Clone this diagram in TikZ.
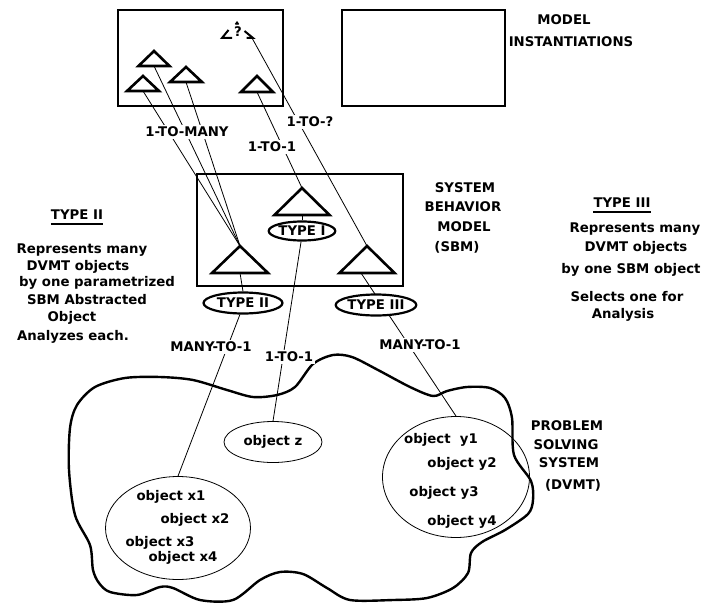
\documentclass[tikz,border=0pt]{standalone}
\usepackage{fontspec}
\setmainfont{DejaVu Sans}
\usetikzlibrary{shapes.geometric}
\newcommand\mytri[5]{%
  \draw[tri] (#2,#3) -- ++(-#4,#5) -- ++(2*#4,0) -- cycle;
  \coordinate (#1a) at (#2,#3);
  \coordinate (#1b) at (#2,#3+#5);}
\begin{document}
\begin{tikzpicture}[x=1pt,y=-1pt,
  every node/.style={font=\bfseries\fontsize{13.3}{15}\selectfont},
  box/.style={draw, line width=2.2pt, inner sep=0pt},
  tri/.style={draw, line width=2.6pt, line join=miter},
  link/.style={draw, line width=0.8pt},
  lbl/.style={fill=white, inner sep=1.5pt},
  typeell/.style={ellipse, draw, line width=2.2pt, fill=white, inner sep=0pt},
  objell/.style={ellipse, draw, line width=0.8pt, inner sep=0pt},
  txt/.style={inner sep=0pt, align=center},
  ulin/.style={line width=1.3pt},
  blob/.style={line width=2.4pt, line join=round}]
\useasboundingbox (0,0) rectangle (706,602);

% boxes
\node[box, minimum width=165pt, minimum height=96pt] (inst) at (200.5,58) {};
\node[box, minimum width=163pt, minimum height=96pt] (inst2) at (423.5,58) {};
\node[box, minimum width=206pt, minimum height=112pt] (sbm) at (300,230) {};

% top triangles
\mytri{ta}{154}{51}{15.5}{15}
\mytri{tb}{186}{67}{16}{15}
\mytri{tc}{143}{76}{16}{15}
\mytri{td}{257}{76}{16}{16}
% broken triangle with question mark
\draw[tri, line width=2pt] (228.5,30) -- (222,38) -- (232,38);
\draw[tri, line width=2pt] (244.5,31) -- (253,38) -- (246.5,38);
\draw[tri, line width=1.8pt] (235.5,24.5) -- (237,22.5) -- (238.5,24.5);
\coordinate (tqr) at (252,38);
\node[inner sep=0pt] (q) at (238,32) {?};

% SBM triangles
\mytri{sI}{302}{188}{27.5}{27}
\mytri{sII}{240}{246}{28}{27}
\mytri{sIII}{367}{246}{27.5}{27}
\coordinate (sIIIc) at (361,273);

% blob
\draw[blob] plot[smooth cycle, tension=0.5] coordinates {
(77,405) (95,387) (125,378) (160,377) (193,380) (227,390) (253,397) (277,395)
(295,387) (313,364) (333,355) (352,357) (378,370) (410,387) (433,396) (447,391)
(467,387) (490,388) (505,398) (512,418) (514,455) (531,481) (533,500) (528,514)
(505,530) (482,542) (471,553) (468,573) (453,588) (427,598) (393,600) (350,600)
(327,588) (303,574) (280,572) (260,580) (233,600) (200,600) (173,588) (160,587)
(137,595) (110,592) (99,583) (93,570) (90,545) (75,515) (69,470) (70,428)};

% object ellipses
\node[objell, minimum width=98pt, minimum height=41pt] (z) at (273,442) {object z};
\node[objell, minimum width=145pt, minimum height=103pt] (ox) at (178,528) {};
\node[objell, minimum width=147pt, minimum height=121pt] (oy) at (456,477) {};

% connectors
\draw[link] (tcb) -- (sIIa);
\draw[link] (tab) -- (sIIa);
\draw[link] (tbb) -- (sIIa);
\draw[link] (tdb) -- (sIa);
\draw[link] (tqr) -- (sIIIa);
\draw[link] (sIIIc) -- (oy.north);

% type ellipses
\node[typeell, minimum width=62pt, minimum height=19pt] (tI) at (302,231) {TYPE I};
\node[typeell, minimum width=79pt, minimum height=21pt] (tII) at (243,303) {TYPE II};
\node[typeell, minimum width=78pt, minimum height=21pt] (tIII) at (376,305) {TYPE III};

\draw[link] (sIb) -- (tI.north);
\draw[link] (sIIb) -- (tII.north);
\draw[link] (tII.255) -- (ox.north);
\draw[link] (tI.265) -- (z.north);

% connector labels
\node[lbl] (l1) at (187,132) {1-TO-MANY};
\node[lbl] (l2) at (272,147) {1-TO-1};
\node[lbl] (l3) at (310,122) {1-TO-?};
\node[lbl] (l4) at (211,347) {MANY-TO-1};
\node[lbl] (l5) at (289,357) {1-TO-1};
\node[lbl] (l6) at (420,345) {MANY-TO-1};

% object texts
\node[txt] (x1) at (171,497) {object x1};
\node[txt] (x2) at (195,520) {object x2};
\node[txt] (x3) at (160,543) {object x3};
\node[txt] (x4) at (183,558) {object x4};
\node[txt] (y1) at (441,440) {object\ \ y1};
\node[txt] (y2) at (462,464) {object y2};
\node[txt] (y3) at (444,493) {object y3};
\node[txt] (y4) at (462,522) {object y4};

% headings
\node[txt] (mi1) at (564,20) {MODEL};
\node[txt] (mi2) at (571,42) {INSTANTIATIONS};
\node[txt] (sb1) at (465,188) {SYSTEM};
\node[txt] (sb2) at (463,207) {BEHAVIOR};
\node[txt] (sb3) at (464,227) {MODEL};
\node[txt] (sb4) at (457,247) {(SBM)};
\node[txt] (ps1) at (567,426) {PROBLEM};
\node[txt] (ps2) at (566,445) {SOLVING};
\node[txt] (ps3) at (569,463) {SYSTEM};
\node[txt] (ps4) at (573,485) {(DVMT)};

% left notes
\node[txt] (u1) at (77,215) {TYPE II};
\draw[ulin] ([yshift=-4pt]u1.south west) -- ([yshift=-4pt]u1.south east);
\node[txt] (a1) at (82,250) {Represents many};
\node[txt] (a2) at (78,267) {DVMT objects};
\node[txt] (a3) at (97,283) {by one parametrized};
\node[txt] (a4) at (87,300) {SBM Abstracted};
\node[txt] (a5) at (72,318) {Object};
\node[txt] (a6) at (73,337) {Analyzes each.};

% right notes
\node[txt] (u2) at (622,203) {TYPE III};
\draw[ulin] ([yshift=-4pt]u2.south west) -- ([yshift=-4pt]u2.south east);
\node[txt] (b1) at (635,229) {Represents many};
\node[txt] (b2) at (636,248) {DVMT objects};
\node[txt] (b3) at (631,270) {by one SBM object};
\node[txt] (b4) at (627,297) {Selects one for};
\node[txt] (b5) at (623,315) {Analysis};
\end{tikzpicture}
\end{document}
